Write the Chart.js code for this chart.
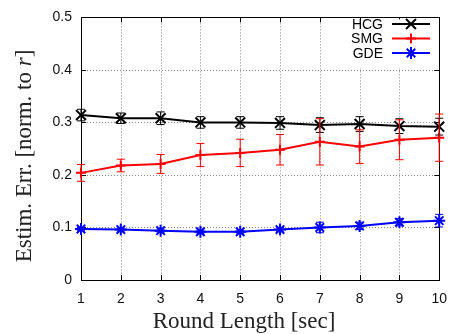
<!DOCTYPE html>
<html>
<head>
<meta charset="utf-8">
<script src="https://cdn.jsdelivr.net/npm/chart.js@4/dist/chart.umd.min.js"></script>
<style>
  html, body { margin: 0; padding: 0; background: #fff; }
  #wrap { width: 458px; height: 334px; }
</style>
</head>
<body>
<div id="wrap"><canvas id="c" width="458" height="334"></canvas></div>
<script>
// Round length in seconds
const roundLength = [1, 2, 3, 4, 5, 6, 7, 8, 9, 10];

// Mean estimation error (normalised to r) and its spread
const hcgErr  = [0.314, 0.308, 0.308, 0.300, 0.300, 0.299, 0.295, 0.297, 0.293, 0.292];
const hcgDev  = [0.011, 0.010, 0.012, 0.011, 0.011, 0.012, 0.014, 0.014, 0.014, 0.016];
const smgErr  = [0.204, 0.218, 0.221, 0.238, 0.242, 0.248, 0.263, 0.254, 0.267, 0.271];
const smgDev  = [0.016, 0.012, 0.018, 0.022, 0.026, 0.029, 0.044, 0.032, 0.038, 0.045];
const gdeErr  = [0.097, 0.096, 0.094, 0.092, 0.092, 0.096, 0.100, 0.103, 0.110, 0.113];
const gdeDev  = [0.003, 0.003, 0.003, 0.003, 0.003, 0.004, 0.010, 0.007, 0.007, 0.012];

const seriesNames = ['HCG', 'SMG', 'GDE'];
const yTicks = [0, 0.1, 0.2, 0.3, 0.4, 0.5];

const SANS = '"Liberation Sans", Arial, Helvetica, sans-serif';
const SERIF = '"Liberation Serif", "Times New Roman", serif';

function toPoints(vals) {
  return roundLength.map((x, i) => ({ x: x, y: vals[i] }));
}

// Dotted grid, inward tick marks and the frame around the plot area
const framePlugin = {
  id: 'frame',
  beforeDatasetsDraw(chart) {
    const { ctx, chartArea: a, scales } = chart;
    const xs = scales.x, ys = scales.y;
    ctx.save();
    ctx.strokeStyle = '#888';
    ctx.lineWidth = 1;
    ctx.setLineDash([1, 2]);
    roundLength.forEach(v => {
      const px = Math.round(xs.getPixelForValue(v)) + 0.5;
      if (px <= a.left + 1 || px >= a.right - 1) return;
      ctx.beginPath(); ctx.moveTo(px, a.top); ctx.lineTo(px, a.bottom); ctx.stroke();
    });
    yTicks.forEach(v => {
      const py = Math.round(ys.getPixelForValue(v)) + 0.5;
      if (py <= a.top + 1 || py >= a.bottom - 1) return;
      ctx.beginPath(); ctx.moveTo(a.left, py); ctx.lineTo(a.right, py); ctx.stroke();
    });
    ctx.setLineDash([]);
    ctx.strokeStyle = '#000';
    const tl = 5;
    roundLength.forEach(v => {
      const px = Math.round(xs.getPixelForValue(v)) + 0.5;
      ctx.beginPath();
      ctx.moveTo(px, a.bottom); ctx.lineTo(px, a.bottom - tl);
      ctx.moveTo(px, a.top); ctx.lineTo(px, a.top + tl);
      ctx.stroke();
    });
    yTicks.forEach(v => {
      const py = Math.round(ys.getPixelForValue(v)) + 0.5;
      ctx.beginPath();
      ctx.moveTo(a.left, py); ctx.lineTo(a.left + tl, py);
      ctx.moveTo(a.right, py); ctx.lineTo(a.right - tl, py);
      ctx.stroke();
    });
    ctx.lineWidth = 1;
    ctx.strokeRect(Math.round(a.left) + 0.5, Math.round(a.top) + 0.5,
                   Math.round(a.right - a.left), Math.round(a.bottom - a.top));
    ctx.restore();
  }
};

// Vertical error bars with caps, one set per dataset
const errorBarPlugin = {
  id: 'errorBars',
  afterDatasetsDraw(chart) {
    const { ctx, scales } = chart;
    const ys = scales.y;
    ctx.save();
    chart.data.datasets.forEach((ds, di) => {
      const meta = chart.getDatasetMeta(di);
      ctx.strokeStyle = ds.borderColor;
      ctx.lineWidth = 1;
      meta.data.forEach((pt, i) => {
        const v = ds.data[i].y, d = ds.errors[i];
        const y1 = ys.getPixelForValue(v + d), y2 = ys.getPixelForValue(v - d);
        const x = pt.x, cw = 4;
        ctx.beginPath();
        ctx.moveTo(x, y1); ctx.lineTo(x, y2);
        ctx.moveTo(x - cw, y1); ctx.lineTo(x + cw, y1);
        ctx.moveTo(x - cw, y2); ctx.lineTo(x + cw, y2);
        ctx.stroke();
      });
    });
    ctx.restore();
  }
};

// Key box in the upper right corner and both axis titles
function drawMarker(ctx, style, x, y, r) {
  ctx.beginPath();
  if (style === 'crossRot' || style === 'star') {
    const o = r * Math.SQRT1_2;
    ctx.moveTo(x - o, y - o); ctx.lineTo(x + o, y + o);
    ctx.moveTo(x - o, y + o); ctx.lineTo(x + o, y - o);
  }
  if (style === 'cross' || style === 'star') {
    ctx.moveTo(x - r, y); ctx.lineTo(x + r, y);
    ctx.moveTo(x, y - r); ctx.lineTo(x, y + r);
  }
  ctx.stroke();
}

const keyPlugin = {
  id: 'keyAndTitles',
  afterDatasetsDraw(chart) {
    const { ctx, chartArea: a } = chart;
    ctx.save();
    ctx.fillStyle = '#fff';
    ctx.fillRect(342, a.top + 2, a.right - 342 - 6, 49);
    ctx.font = '14px ' + SANS;
    ctx.textAlign = 'right';
    ctx.textBaseline = 'middle';
    chart.data.datasets.forEach((ds, i) => {
      const y = 24 + i * 14.5;
      ctx.fillStyle = '#000';
      ctx.fillText(ds.label, 383, y + 1);
      ctx.strokeStyle = ds.borderColor;
      ctx.lineWidth = 2;
      ctx.beginPath(); ctx.moveTo(392, y); ctx.lineTo(430, y); ctx.stroke();
      drawMarker(ctx, ds.pointStyle, 411, y, ds.pointRadius);
    });

    // axis titles
    ctx.fillStyle = '#222';
    ctx.font = '23px ' + SERIF;
    ctx.textAlign = 'center';
    ctx.textBaseline = 'alphabetic';
    ctx.fillText('Round Length [sec]', 244, 328);

    ctx.translate(31, 156);
    ctx.rotate(-Math.PI / 2);
    const parts = [
      { t: 'Estim. Err. [norm. to ', f: '23px ' + SERIF },
      { t: 'r', f: 'italic 23px ' + SERIF },
      { t: ']', f: '23px ' + SERIF }
    ];
    let total = 0;
    parts.forEach(p => { ctx.font = p.f; p.w = ctx.measureText(p.t).width; total += p.w; });
    let x = -total / 2;
    ctx.textAlign = 'left';
    parts.forEach(p => { ctx.font = p.f; ctx.fillText(p.t, x, 0); x += p.w; });
    ctx.restore();
  }
};

const datasets = [
  { label: seriesNames[0], data: toPoints(hcgErr), errors: hcgDev,
    borderColor: '#000000', pointStyle: 'crossRot', pointRadius: 7 },
  { label: seriesNames[1], data: toPoints(smgErr), errors: smgDev,
    borderColor: '#ff0000', pointStyle: 'cross', pointRadius: 5 },
  { label: seriesNames[2], data: toPoints(gdeErr), errors: gdeDev,
    borderColor: '#0000ff', pointStyle: 'star', pointRadius: 6 }
].map(d => Object.assign({
  borderWidth: 2, pointBorderWidth: 2, pointBorderColor: d.borderColor,
  backgroundColor: d.borderColor, pointHoverRadius: d.pointRadius,
  tension: 0, fill: false, clip: false
}, d));

new Chart(document.getElementById('c'), {
  type: 'line',
  data: { datasets: datasets },
  plugins: [framePlugin, errorBarPlugin, keyPlugin],
  options: {
    responsive: false,
    animation: false,
    events: [],
    layout: { padding: { left: 0, right: 10, top: 12, bottom: 0 } },
    plugins: { legend: { display: false }, tooltip: { enabled: false } },
    scales: {
      x: {
        type: 'linear', min: 1, max: 10,
        grid: { display: false, drawTicks: false },
        border: { display: false },
        afterFit(s) { s.height = 54; },
        afterBuildTicks(s) { s.ticks = roundLength.map(v => ({ value: v })); },
        ticks: { padding: 11, color: '#111', font: { family: SANS, size: 14 } }
      },
      y: {
        type: 'linear', min: 0, max: 0.5,
        grid: { display: false, drawTicks: false },
        border: { display: false },
        afterFit(s) { s.width = 81; },
        afterBuildTicks(s) { s.ticks = yTicks.map(v => ({ value: v })); },
        ticks: { padding: 9, color: '#111', font: { family: SANS, size: 14 },
                 callback: v => String(v) }
      }
    }
  }
});
</script>
</body>
</html>
